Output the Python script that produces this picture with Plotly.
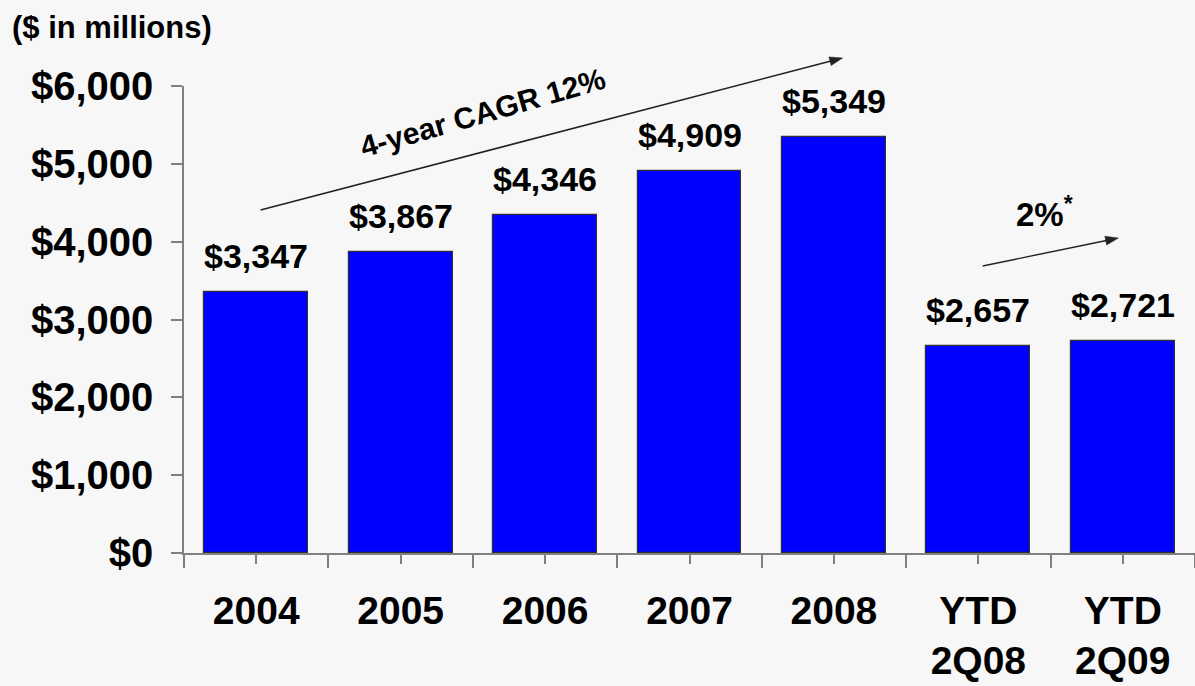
import math
import plotly.graph_objects as go

# Revenue by period ($ in millions)
periods = ["2004", "2005", "2006", "2007", "2008", "YTD<br>2Q08", "YTD<br>2Q09"]
revenue = [3347, 3867, 4346, 4909, 5349, 2657, 2721]
value_labels = ["$3,347", "$3,867", "$4,346", "$4,909", "$5,349", "$2,657", "$2,721"]
y_ticks = [0, 1000, 2000, 3000, 4000, 5000, 6000]
y_tick_text = ["$0", "$1,000", "$2,000", "$3,000", "$4,000", "$5,000", "$6,000"]

FONT = "Liberation Sans, Arial, sans-serif"
BG = "#f7f7f7"
W, H = 1195, 686
M = dict(l=184, r=0, t=86, b=133)
PW, PH = W - M["l"] - M["r"], H - M["t"] - M["b"]

x_pos = list(range(len(periods)))
x_range = [-0.5, len(periods) - 0.5]
y_range = [0, 6000]


def to_px(x, y):
    """Data coordinates -> pixel offsets inside the plot area."""
    fx = (x - x_range[0]) / (x_range[1] - x_range[0])
    fy = (y - y_range[0]) / (y_range[1] - y_range[0])
    return fx * PW, fy * PH


def to_paper(px, py):
    return px / PW, py / PH


def arrow_shapes(x0, y0, x1, y1, color="#222", width=1.6, head_len=13, head_w=9):
    """Line plus filled triangular head, drawn in paper space so it is never clipped."""
    p0x, p0y = to_px(x0, y0)
    p1x, p1y = to_px(x1, y1)
    dx, dy = p1x - p0x, p1y - p0y
    n = math.hypot(dx, dy)
    ux, uy = dx / n, dy / n
    bx, by = p1x - ux * head_len, p1y - uy * head_len
    lx, ly = bx - uy * head_w / 2, by + ux * head_w / 2
    rx, ry = bx + uy * head_w / 2, by - ux * head_w / 2
    a = to_paper(p0x, p0y)
    b = to_paper(bx + ux * 2, by + uy * 2)
    tip, left, right = to_paper(p1x, p1y), to_paper(lx, ly), to_paper(rx, ry)
    line = dict(type="line", xref="paper", yref="paper", x0=a[0], y0=a[1], x1=b[0], y1=b[1],
                line=dict(color=color, width=width))
    head = dict(type="path", xref="paper", yref="paper",
                path=f"M {tip[0]} {tip[1]} L {left[0]} {left[1]} L {right[0]} {right[1]} Z",
                fillcolor=color, line=dict(color=color, width=0.5))
    return [line, head]


fig = go.Figure()
fig.add_trace(go.Bar(
    x=x_pos,
    y=revenue,
    width=0.72,
    marker=dict(color="#0000ff", line=dict(color="#303030", width=1.2)),
    hoverinfo="skip",
))

# value labels above each bar
for xi, v, lab in zip(x_pos, revenue, value_labels):
    fig.add_annotation(
        x=xi, y=v, text=lab, showarrow=False,
        xanchor="center", yanchor="bottom", yshift=15,
        font=dict(family=FONT, size=34, color="#000", weight="bold"),
    )

# growth arrows
shapes = arrow_shapes(0.03, 4407, 4.06, 6360) + arrow_shapes(5.03, 3688, 5.97, 4047, width=1.4)

# growth captions
fig.add_annotation(
    x=1.57, y=5660, text="4-year CAGR 12%", showarrow=False, textangle=-16,
    xanchor="center", yanchor="middle",
    font=dict(family=FONT, size=30, color="#000", weight="bold"),
)
fig.add_annotation(
    x=5.46, y=4380, text="2%<sup>*</sup>", showarrow=False,
    xanchor="center", yanchor="middle",
    font=dict(family=FONT, size=33, color="#000", weight="bold"),
)

# unit caption in the top-left corner
fig.add_annotation(
    xref="paper", yref="paper",
    x=(10 - M["l"]) / PW, y=1 + (M["t"] - 8) / PH,
    xanchor="left", yanchor="top", text="($ in millions)", showarrow=False,
    font=dict(family=FONT, size=31, color="#000", weight="bold"),
)

fig.update_layout(
    width=W, height=H, margin=M,
    paper_bgcolor=BG, plot_bgcolor=BG,
    showlegend=False, bargap=0,
    shapes=shapes,
    xaxis=dict(
        range=x_range, tickmode="array", tickvals=x_pos, ticktext=periods,
        showgrid=False, zeroline=False, showline=True, linecolor="#808080", linewidth=1.5,
        ticks="outside", ticklen=9, tickcolor="#808080", tickwidth=1.5,
        ticklabelstandoff=13, automargin=False,
        tickfont=dict(family=FONT, size=39, color="#000", weight="bold"),
        minor=dict(
            tickvals=[i - 0.5 for i in range(len(periods) + 1)],
            ticks="outside", ticklen=13, tickcolor="#808080", tickwidth=1.5,
        ),
        fixedrange=True,
    ),
    yaxis=dict(
        range=y_range, tickmode="array", tickvals=y_ticks, ticktext=y_tick_text,
        showgrid=False, zeroline=False, showline=True, linecolor="#808080", linewidth=1.5,
        ticks="outside", ticklen=11, tickcolor="#808080", tickwidth=1.5,
        ticklabelstandoff=10, automargin=False,
        tickfont=dict(family=FONT, size=40, color="#000", weight="bold"),
        fixedrange=True,
    ),
)

fig.write_html("out.html")
